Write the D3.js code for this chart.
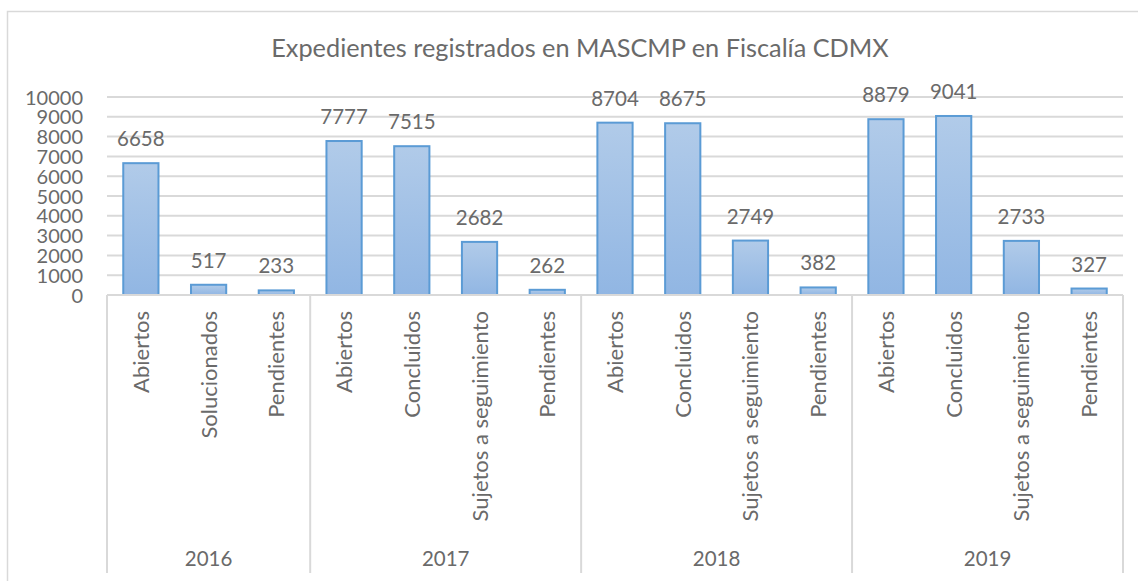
<!DOCTYPE html>
<html>
<head>
<meta charset="utf-8">
<style>
  body { margin: 0; background: #fff; font-family: Lato, "Open Sans", sans-serif; }
  text { font-weight: 400; }
  .grid line { stroke: #d9d9d9; stroke-width: 2; }
  .axis text { fill: #6a6a6a; font-size: 20px; }
  .label { fill: #6a6a6a; font-size: 20.5px; }
  .cat { fill: #6a6a6a; font-size: 22px; }
  .year { fill: #6a6a6a; font-size: 20.5px; }
  .title { fill: #6a6a6a; font-size: 25.3px; }
</style>
</head>
<body>
<script src="https://d3js.org/d3.v7.min.js"></script>
<script>
var years = ["2016", "2017", "2018", "2019"];
var yearCats = [
  ["Abiertos", "Solucionados", "Pendientes"],
  ["Abiertos", "Concluidos", "Sujetos a seguimiento", "Pendientes"],
  ["Abiertos", "Concluidos", "Sujetos a seguimiento", "Pendientes"],
  ["Abiertos", "Concluidos", "Sujetos a seguimiento", "Pendientes"]
];
var values = [
  [6658, 517, 233],
  [7777, 7515, 2682, 262],
  [8704, 8675, 2749, 382],
  [8879, 9041, 2733, 327]
];
var yTicks = [0, 1000, 2000, 3000, 4000, 5000, 6000, 7000, 8000, 9000, 10000];

var W = 1138, H = 581;
var plot = { left: 107, right: 1123, top: 97, bottom: 295 };
var axisBottom = 573;

// flatten
var bars = [];
years.forEach(function(y, gi) {
  yearCats[gi].forEach(function(c, ci) {
    bars.push({ year: y, cat: c, value: values[gi][ci], idx: bars.length });
  });
});

var svg = d3.select("body").append("svg")
    .attr("width", W)
    .attr("height", H);

var defs = svg.append("defs");
var grad = defs.append("linearGradient")
    .attr("id", "barGrad")
    .attr("x1", 0).attr("y1", 0).attr("x2", 0).attr("y2", 1);
grad.append("stop").attr("offset", "0%").attr("stop-color", "#b1cbe9");
grad.append("stop").attr("offset", "100%").attr("stop-color", "#91b6e3");

// chart frame
svg.append("rect")
    .attr("x", 7.5).attr("y", 11.5)
    .attr("width", W + 20).attr("height", H + 20)
    .attr("fill", "none")
    .attr("stroke", "#d9d9d9")
    .attr("stroke-width", 1.5);

var x = d3.scaleBand()
    .domain(bars.map(function(d) { return d.idx; }))
    .range([plot.left, plot.right])
    .paddingInner(0.48)
    .paddingOuter(0.24);

var y = d3.scaleLinear()
    .domain([0, 10000])
    .range([plot.bottom, plot.top]);

// gridlines
svg.append("g").attr("class", "grid")
  .selectAll("line")
  .data(yTicks.slice(1))
  .enter().append("line")
    .attr("x1", plot.left).attr("x2", plot.right)
    .attr("y1", function(d) { return y(d); })
    .attr("y2", function(d) { return y(d); });

// y axis labels
var yAxis = d3.axisLeft(y).tickValues(yTicks).tickSize(0).tickPadding(24)
    .tickFormat(d3.format("d"));
svg.append("g")
    .attr("class", "axis")
    .attr("transform", "translate(" + plot.left + ",0)")
    .call(yAxis)
    .call(function(g) { g.select(".domain").remove(); })
    .selectAll("text")
      .attr("dy", "0.35em")
      .style("font-family", "Lato, sans-serif");

// bars
svg.append("g").selectAll("rect")
  .data(bars)
  .enter().append("rect")
    .attr("x", function(d) { return x(d.idx); })
    .attr("width", x.bandwidth())
    .attr("y", function(d) { return y(d.value); })
    .attr("height", function(d) { return y(0) - y(d.value); })
    .attr("fill", "url(#barGrad)")
    .attr("stroke", "#5b9bd5")
    .attr("stroke-width", 2);

// data labels
svg.append("g").selectAll("text")
  .data(bars)
  .enter().append("text")
    .attr("class", "label")
    .attr("x", function(d) { return x(d.idx) + x.bandwidth() / 2; })
    .attr("y", function(d) { return y(d.value) - 17; })
    .attr("text-anchor", "middle")
    .text(function(d) { return d.value; });

// category axis
var ax = svg.append("g").attr("stroke", "#d9d9d9").attr("stroke-width", 2);
ax.append("line")
    .attr("x1", plot.left).attr("x2", plot.right)
    .attr("y1", plot.bottom).attr("y2", plot.bottom);

var bounds = [0];
yearCats.forEach(function(c) { bounds.push(bounds[bounds.length - 1] + c.length); });
var bx = function(i) { return plot.left + (plot.right - plot.left) * i / bars.length; };

ax.selectAll("line.sep")
  .data(bounds)
  .enter().append("line")
    .attr("class", "sep")
    .attr("x1", function(d) { return bx(d); })
    .attr("x2", function(d) { return bx(d); })
    .attr("y1", plot.bottom).attr("y2", axisBottom);

svg.append("g").selectAll("text")
  .data(bars)
  .enter().append("text")
    .attr("class", "cat")
    .attr("transform", function(d) {
      return "translate(" + (x(d.idx) + x.bandwidth() / 2 + 8) + "," + 311 + ") rotate(-90)";
    })
    .attr("text-anchor", "end")
    .text(function(d) { return d.cat; });

svg.append("g").selectAll("text")
  .data(years)
  .enter().append("text")
    .attr("class", "year")
    .attr("x", function(d, i) { return (bx(bounds[i]) + bx(bounds[i + 1])) / 2; })
    .attr("y", 566)
    .attr("text-anchor", "middle")
    .text(function(d) { return d; });

svg.append("text")
    .attr("class", "title")
    .attr("x", 580)
    .attr("y", 57)
    .attr("text-anchor", "middle")
    .text("Expedientes registrados en MASCMP en Fiscalía CDMX");
</script>
</body>
</html>
